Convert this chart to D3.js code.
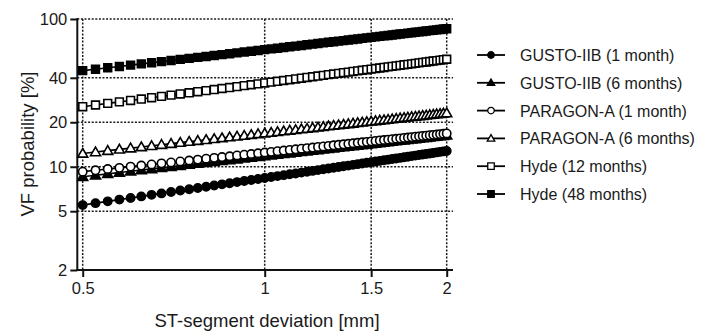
<!DOCTYPE html>
<html><head><meta charset="utf-8">
<script src="https://cdn.jsdelivr.net/npm/d3@7"></script>
<style>html,body{margin:0;padding:0;background:#fff}svg{display:block}text{font-family:Arial,"Liberation Sans",sans-serif;fill:#1a1a1a}</style>
</head><body>
<svg id="c" width="719" height="332"></svg>
<script>
const stDeviation = [0.5,0.525,0.55,0.575,0.6,0.625,0.65,0.675,0.7,0.725,0.75,0.775,0.8,0.825,0.85,0.875,0.9,0.925,0.95,0.975,1.0,1.025,1.05,1.075,1.1,1.125,1.15,1.175,1.2,1.225,1.25,1.275,1.3,1.325,1.35,1.375,1.4,1.425,1.45,1.475,1.5,1.525,1.55,1.575,1.6,1.625,1.65,1.675,1.7,1.725,1.75,1.775,1.8,1.825,1.85,1.875,1.9,1.925,1.95,1.975,2.0];
const gusto1 = [5.50,5.67,5.83,5.99,6.15,6.30,6.45,6.60,6.75,6.90,7.04,7.18,7.32,7.46,7.60,7.73,7.87,8.00,8.13,8.26,8.39,8.52,8.64,8.77,8.89,9.01,9.13,9.25,9.37,9.49,9.61,9.73,9.84,9.96,10.07,10.18,10.30,10.41,10.52,10.63,10.74,10.85,10.95,11.06,11.17,11.27,11.38,11.48,11.59,11.69,11.80,11.90,12.00,12.10,12.20,12.30,12.40,12.50,12.60,12.70,12.79];
const gusto6 = [8.56,8.76,8.95,9.13,9.32,9.50,9.67,9.84,10.01,10.17,10.34,10.50,10.65,10.80,10.96,11.10,11.25,11.39,11.54,11.68,11.82,11.95,12.09,12.22,12.35,12.48,12.61,12.74,12.86,12.98,13.11,13.23,13.35,13.47,13.59,13.70,13.82,13.93,14.04,14.16,14.27,14.38,14.49,14.59,14.70,14.81,14.91,15.02,15.12,15.23,15.33,15.43,15.53,15.63,15.73,15.83,15.93,16.02,16.12,16.21,16.31];
const paragon1 = [9.26,9.46,9.65,9.83,10.02,10.19,10.37,10.54,10.70,10.86,11.02,11.18,11.33,11.49,11.63,11.78,11.92,12.06,12.20,12.34,12.48,12.61,12.74,12.87,13.00,13.12,13.25,13.37,13.49,13.61,13.73,13.85,13.97,14.08,14.19,14.31,14.42,14.53,14.64,14.74,14.85,14.96,15.06,15.17,15.27,15.37,15.47,15.57,15.67,15.77,15.87,15.97,16.06,16.16,16.25,16.35,16.44,16.53,16.63,16.72,16.81];
const paragon6 = [12.30,12.58,12.85,13.11,13.36,13.61,13.86,14.10,14.33,14.57,14.79,15.01,15.23,15.45,15.66,15.87,16.07,16.27,16.47,16.67,16.86,17.05,17.24,17.42,17.61,17.79,17.97,18.14,18.32,18.49,18.66,18.83,19.00,19.16,19.33,19.49,19.65,19.81,19.97,20.12,20.28,20.43,20.58,20.73,20.88,21.03,21.18,21.32,21.47,21.61,21.75,21.89,22.03,22.17,22.31,22.44,22.58,22.71,22.85,22.98,23.11];
const hyde12 = [25.50,26.17,26.83,27.47,28.10,28.72,29.33,29.92,30.51,31.09,31.65,32.21,32.76,33.30,33.84,34.36,34.88,35.40,35.90,36.40,36.90,37.39,37.87,38.35,38.82,39.29,39.75,40.21,40.66,41.11,41.56,42.00,42.44,42.87,43.30,43.72,44.15,44.56,44.98,45.39,45.80,46.20,46.61,47.00,47.40,47.79,48.19,48.57,48.96,49.34,49.72,50.10,50.47,50.85,51.22,51.58,51.95,52.31,52.67,53.03,53.39];
const hyde48 = [44.70,45.74,46.76,47.75,48.72,49.66,50.59,51.50,52.39,53.27,54.13,54.97,55.80,56.62,57.42,58.21,58.99,59.76,60.52,61.26,62.00,62.73,63.45,64.15,64.85,65.55,66.23,66.91,67.57,68.23,68.89,69.53,70.17,70.81,71.44,72.06,72.67,73.28,73.89,74.48,75.08,75.67,76.25,76.83,77.40,77.97,78.53,79.09,79.65,80.20,80.75,81.29,81.83,82.36,82.89,83.42,83.94,84.46,84.98,85.49,86.00];
const seriesNames = ["GUSTO-IIB (1 month)","GUSTO-IIB (6 months)","PARAGON-A (1 month)","PARAGON-A (6 months)","Hyde (12 months)","Hyde (48 months)"];
const seriesValues = [gusto1, gusto6, paragon1, paragon6, hyde12, hyde48];
const seriesMarkers = ["circle","triangle","circle","triangle","square","square"];
const seriesFilled = [true, true, false, false, false, true];
const xTicks = [0.5, 1, 1.5, 2];
const xTickLabels = ["0.5","1","1.5","2"];
const yTicks = [2, 5, 10, 20, 40, 100];
const yTickLabels = ["2","5","10","20","40","100"];

(function () {
const svg = d3.select("#c");
const x = d3.scaleLog().domain([0.5, 2]).range([82.7, 446.7]);
const y = d3.scaleLog().domain([2, 100]).range([270, 19]);
const pLeft = 77.3, pRight = 453, pTop = 19, pBottom = 270;

// grid
const grid = svg.append("g").attr("stroke", "#1a1a1a").attr("stroke-width", 1.5).attr("stroke-dasharray", "2,1.6");
grid.selectAll(".gy").data(yTicks.filter(d => d !== 2)).join("line")
  .attr("x1", pLeft).attr("x2", pRight).attr("y1", d => y(d)).attr("y2", d => y(d));
grid.selectAll(".gx").data(xTicks).join("line")
  .attr("x1", d => x(d)).attr("x2", d => x(d)).attr("y1", pTop).attr("y2", pBottom);

// axes
const xAxis = d3.axisBottom(x).tickValues(xTicks).tickFormat((d, i) => xTickLabels[i]).tickSize(7).tickSizeOuter(0);
const gx = svg.append("g").attr("transform", `translate(0,${pBottom})`).call(xAxis);
gx.select(".domain").remove();
gx.selectAll(".tick line").attr("stroke", "#111").attr("stroke-width", 2);
gx.selectAll(".tick text").attr("font-size", 16.5).attr("font-family", "Arial, 'Liberation Sans', sans-serif").attr("fill", "#1a1a1a").attr("dy", "0.95em").attr("y", 8);
svg.append("line").attr("x1", pLeft - 1).attr("x2", pRight).attr("y1", pBottom).attr("y2", pBottom).attr("stroke", "#111").attr("stroke-width", 2);

const yAxis = d3.axisLeft(y).tickValues(yTicks).tickFormat((d, i) => yTickLabels[i]).tickSize(7).tickSizeOuter(0);
const gy = svg.append("g").attr("transform", `translate(${pLeft},0)`).call(yAxis);
gy.select(".domain").remove();
gy.selectAll(".tick line").attr("stroke", "#111").attr("stroke-width", 2);
gy.selectAll(".tick text").attr("font-size", 16.5).attr("font-family", "Arial, 'Liberation Sans', sans-serif").attr("fill", "#1a1a1a").attr("x", -10);
svg.append("line").attr("x1", pLeft).attr("x2", pLeft).attr("y1", pTop - 1).attr("y2", pBottom + 1).attr("stroke", "#111").attr("stroke-width", 2);

// titles
svg.append("text").attr("x", 267).attr("y", 327).attr("text-anchor", "middle").attr("font-size", 18.5).text("ST-segment deviation [mm]");
svg.append("text").attr("transform", "translate(34,144) rotate(-90)").attr("text-anchor", "middle").attr("font-size", 18.5).text("VF probability [%]");

// series
const line = d3.line().x((d, i) => x(stDeviation[i])).y(d => y(d));
function marker(g, type, filled, size) {
  const fill = filled ? "#000" : "#fff";
  let sym;
  if (type === "circle") sym = d3.symbol(d3.symbolCircle, size * size * Math.PI / 4);
  else if (type === "square") sym = d3.symbol(d3.symbolSquare, size * size);
  else sym = d3.symbol(d3.symbolTriangle, size * size * Math.sqrt(3) / 4);
  return g.append("path").attr("d", sym()).attr("fill", fill).attr("stroke", "#000").attr("stroke-width", 1.6);
}
seriesValues.forEach((vals, s) => {
  const g = svg.append("g");
  g.append("path").datum(vals).attr("d", line).attr("fill", "none").attr("stroke", "#000").attr("stroke-width", 1.6);
  vals.forEach((v, i) => {
    const sz = seriesMarkers[s] === "triangle" ? 10 : (seriesMarkers[s] === "circle" ? 8.3 : 7.8);
    marker(g, seriesMarkers[s], seriesFilled[s], sz).attr("transform", `translate(${x(stDeviation[i])},${y(v) + (seriesMarkers[s] === "triangle" ? 0.8 : 0)})`);
  });
});

// legend
const lg = svg.append("g");
seriesNames.forEach((name, s) => {
  const yy = 55 + s * 27.8;
  lg.append("line").attr("x1", 477).attr("x2", 505).attr("y1", yy).attr("y2", yy).attr("stroke", "#000").attr("stroke-width", 1.8);
  const sz = seriesMarkers[s] === "triangle" ? 7.5 : 6.5;
  marker(lg, seriesMarkers[s], seriesFilled[s], sz).attr("transform", `translate(491,${yy + (seriesMarkers[s] === "triangle" ? 0.5 : 0)})`).attr("stroke-width", 1.3);
  lg.append("text").attr("x", 520).attr("y", yy + 6).attr("font-size", 16).text(name);
});
})();
</script>
</body></html>
